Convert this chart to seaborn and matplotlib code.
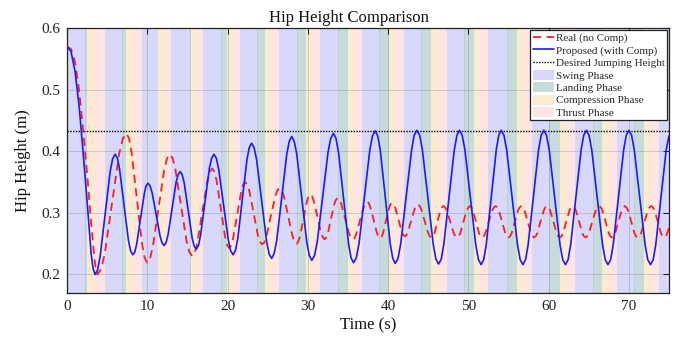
import matplotlib
matplotlib.use("Agg")
import matplotlib.pyplot as plt
import seaborn as sns
import pandas as pd
from matplotlib.patches import Patch
from matplotlib.lines import Line2D

# ---------------- data ----------------
# Real (no Comp) hip height, dashed red
real_t = [0.0, 0.5, 1.0, 1.5, 2.0, 2.5, 3.0, 3.4, 3.6, 3.8,
          4.25, 4.7, 5.6, 6.5, 6.95, 7.4,
          7.73, 8.05, 8.7, 9.35, 9.68, 10.0,
          10.35, 10.7, 11.4, 12.1, 12.45, 12.8,
          13.15, 13.5, 14.2, 14.9, 15.25, 15.6,
          15.91, 16.23, 16.85, 17.48, 17.79, 18.1,
          18.36, 18.63, 19.15, 19.68, 19.94, 20.2,
          20.45, 20.7, 21.2, 21.7, 21.95, 22.2,
          22.46, 22.73, 23.25, 23.78, 24.04, 24.3,
          24.58, 24.85, 25.4, 25.95, 26.23, 26.5,
          26.76, 27.03, 27.55, 28.08, 28.34, 28.6,
          28.81, 29.03, 29.45, 29.88, 30.09, 30.3,
          30.53, 30.75, 31.2, 31.65, 31.88, 32.1,
          32.3, 32.5, 32.9, 33.3, 33.5, 33.7,
          33.94, 34.18, 34.65, 35.13, 35.36, 35.6,
          35.83, 36.05, 36.5, 36.95, 37.18, 37.4,
          37.6, 37.8, 38.2, 38.6, 38.8, 39.0,
          39.19, 39.38, 39.75, 40.13, 40.31, 40.5,
          40.7, 40.9, 41.3, 41.7, 41.9, 42.1,
          42.3, 42.5, 42.9, 43.3, 43.5, 43.7,
          43.91, 44.13, 44.55, 44.98, 45.19, 45.4,
          45.59, 45.78, 46.15, 46.53, 46.71, 46.9,
          47.11, 47.33, 47.75, 48.18, 48.39, 48.6,
          48.8, 49.0, 49.4, 49.8, 50.0, 50.2,
          50.39, 50.58, 50.95, 51.33, 51.51, 51.7,
          51.91, 52.13, 52.55, 52.98, 53.19, 53.4,
          53.6, 53.8, 54.2, 54.6, 54.8, 55.0,
          55.2, 55.4, 55.8, 56.2, 56.4, 56.6,
          56.8, 57.0, 57.4, 57.8, 58.0, 58.2,
          58.4, 58.6, 59.0, 59.4, 59.6, 59.8,
          60.0, 60.2, 60.6, 61.0, 61.2, 61.4,
          61.6, 61.8, 62.2, 62.6, 62.8, 63.0,
          63.2, 63.4, 63.8, 64.2, 64.4, 64.6,
          64.81, 65.03, 65.45, 65.88, 66.09, 66.3,
          66.5, 66.7, 67.1, 67.5, 67.7, 67.9,
          68.1, 68.3, 68.7, 69.1, 69.3, 69.5,
          69.7, 69.9, 70.3, 70.7, 70.9, 71.1,
          71.31, 71.53, 71.95, 72.38, 72.59, 72.8,
          73.0, 73.2, 73.6, 74.0, 74.2, 74.4,
          74.7, 75.0]
real_h = [0.570, 0.566, 0.545, 0.500, 0.437, 0.365, 0.285, 0.228, 0.208, 0.200,
          0.209, 0.233, 0.315, 0.396, 0.420, 0.429,
          0.421, 0.398, 0.324, 0.250, 0.227, 0.219,
          0.226, 0.245, 0.307, 0.369, 0.388, 0.395,
          0.389, 0.371, 0.313, 0.254, 0.236, 0.230,
          0.235, 0.251, 0.301, 0.351, 0.367, 0.372,
          0.367, 0.353, 0.308, 0.262, 0.248, 0.243,
          0.247, 0.259, 0.297, 0.334, 0.346, 0.350,
          0.346, 0.335, 0.300, 0.264, 0.253, 0.249,
          0.252, 0.262, 0.295, 0.327, 0.337, 0.340,
          0.337, 0.327, 0.295, 0.263, 0.253, 0.250,
          0.253, 0.262, 0.290, 0.318, 0.327, 0.330,
          0.327, 0.319, 0.294, 0.268, 0.260, 0.257,
          0.260, 0.267, 0.291, 0.314, 0.321, 0.324,
          0.321, 0.314, 0.291, 0.267, 0.260, 0.257,
          0.259, 0.266, 0.288, 0.309, 0.316, 0.318,
          0.316, 0.309, 0.289, 0.268, 0.261, 0.259,
          0.261, 0.267, 0.288, 0.308, 0.314, 0.316,
          0.314, 0.308, 0.289, 0.270, 0.264, 0.262,
          0.264, 0.270, 0.288, 0.306, 0.312, 0.314,
          0.312, 0.306, 0.287, 0.268, 0.262, 0.260,
          0.262, 0.267, 0.286, 0.304, 0.309, 0.311,
          0.309, 0.304, 0.286, 0.267, 0.262, 0.260,
          0.262, 0.267, 0.286, 0.304, 0.309, 0.311,
          0.309, 0.304, 0.286, 0.267, 0.262, 0.260,
          0.262, 0.267, 0.286, 0.304, 0.309, 0.311,
          0.309, 0.304, 0.286, 0.267, 0.262, 0.260,
          0.262, 0.267, 0.286, 0.304, 0.309, 0.311,
          0.309, 0.304, 0.286, 0.267, 0.262, 0.260,
          0.262, 0.267, 0.286, 0.304, 0.309, 0.311,
          0.309, 0.304, 0.286, 0.267, 0.262, 0.260,
          0.262, 0.267, 0.286, 0.304, 0.309, 0.311,
          0.309, 0.304, 0.286, 0.267, 0.262, 0.260,
          0.262, 0.267, 0.286, 0.304, 0.309, 0.311,
          0.309, 0.304, 0.286, 0.267, 0.262, 0.260,
          0.262, 0.267, 0.286, 0.304, 0.309, 0.311,
          0.309, 0.304, 0.286, 0.267, 0.262, 0.260,
          0.262, 0.267, 0.286, 0.304, 0.309, 0.311,
          0.309, 0.304, 0.286, 0.267, 0.262, 0.260,
          0.264, 0.276]

# Proposed (with Comp) hip height, solid blue
prop_t = [0.0, 0.5, 1.0, 1.5, 2.0, 2.5, 3.0, 3.25, 3.5,
          3.81, 4.13, 4.75, 5.38, 5.69, 6.0,
          6.28, 6.55, 7.1, 7.65, 7.93, 8.2,
          8.44, 8.68, 9.15, 9.63, 9.86, 10.1,
          10.35, 10.6, 11.1, 11.6, 11.85, 12.1,
          12.35, 12.6, 13.1, 13.6, 13.85, 14.1,
          14.35, 14.6, 15.1, 15.6, 15.85, 16.1,
          16.38, 16.65, 17.2, 17.75, 18.03, 18.3,
          18.6, 18.9, 19.5, 20.1, 20.4, 20.7,
          20.99, 21.28, 21.85, 22.43, 22.71, 23.0,
          23.31, 23.63, 24.25, 24.88, 25.19, 25.5,
          25.81, 26.13, 26.75, 27.38, 27.69, 28.0,
          28.31, 28.63, 29.25, 29.88, 30.19, 30.5,
          30.84, 31.18, 31.85, 32.53, 32.86, 33.2,
          33.51, 33.83, 34.45, 35.08, 35.39, 35.7,
          36.04, 36.38, 37.05, 37.73, 38.06, 38.4,
          38.71, 39.03, 39.65, 40.28, 40.59, 40.9,
          41.24, 41.58, 42.25, 42.93, 43.26, 43.6,
          43.94, 44.28, 44.95, 45.63, 45.96, 46.3,
          46.63, 46.95, 47.6, 48.25, 48.58, 48.9,
          49.24, 49.58, 50.25, 50.93, 51.26, 51.6,
          51.91, 52.23, 52.85, 53.48, 53.79, 54.1,
          54.44, 54.78, 55.45, 56.13, 56.46, 56.8,
          57.13, 57.45, 58.1, 58.75, 59.08, 59.4,
          59.74, 60.08, 60.75, 61.43, 61.76, 62.1,
          62.43, 62.75, 63.4, 64.05, 64.38, 64.7,
          65.04, 65.38, 66.05, 66.73, 67.06, 67.4,
          67.73, 68.05, 68.7, 69.35, 69.68, 70.0,
          70.34, 70.68, 71.35, 72.03, 72.36, 72.7,
          73.03, 73.35, 74.0, 74.65, 75.0]
prop_h = [0.570, 0.562, 0.530, 0.475, 0.400, 0.320, 0.235, 0.210, 0.200,
          0.207, 0.229, 0.298, 0.367, 0.388, 0.395,
          0.389, 0.371, 0.314, 0.256, 0.238, 0.232,
          0.236, 0.249, 0.290, 0.331, 0.344, 0.348,
          0.344, 0.333, 0.298, 0.262, 0.251, 0.247,
          0.252, 0.265, 0.307, 0.350, 0.362, 0.367,
          0.362, 0.349, 0.304, 0.259, 0.246, 0.241,
          0.247, 0.264, 0.318, 0.373, 0.389, 0.395,
          0.389, 0.371, 0.314, 0.256, 0.238, 0.232,
          0.239, 0.258, 0.323, 0.387, 0.406, 0.413,
          0.406, 0.386, 0.320, 0.253, 0.233, 0.226,
          0.234, 0.255, 0.325, 0.395, 0.416, 0.424,
          0.416, 0.395, 0.324, 0.252, 0.231, 0.223,
          0.231, 0.253, 0.326, 0.399, 0.421, 0.429,
          0.421, 0.398, 0.324, 0.250, 0.227, 0.219,
          0.227, 0.250, 0.326, 0.402, 0.425, 0.433,
          0.425, 0.402, 0.326, 0.249, 0.226, 0.218,
          0.226, 0.250, 0.326, 0.402, 0.426, 0.434,
          0.426, 0.402, 0.326, 0.249, 0.225, 0.217,
          0.225, 0.249, 0.326, 0.402, 0.426, 0.434,
          0.426, 0.402, 0.325, 0.248, 0.224, 0.216,
          0.224, 0.248, 0.325, 0.402, 0.426, 0.434,
          0.426, 0.402, 0.325, 0.248, 0.224, 0.216,
          0.224, 0.248, 0.325, 0.402, 0.426, 0.434,
          0.426, 0.402, 0.325, 0.248, 0.224, 0.216,
          0.224, 0.248, 0.325, 0.402, 0.426, 0.434,
          0.426, 0.402, 0.325, 0.248, 0.224, 0.216,
          0.224, 0.248, 0.325, 0.402, 0.426, 0.434,
          0.426, 0.402, 0.325, 0.248, 0.224, 0.216,
          0.224, 0.248, 0.325, 0.402, 0.425]

desired_height = 0.433

# phase boundaries (s)
landing_start = [2.2, 6.8, 11.3, 15.3, 19.2, 23.7, 28.6, 33.8, 38.9, 44.1, 49.5, 54.8, 60.1, 65.5, 70.7]
compression_start = [2.5, 7.4, 11.4, 15.5, 19.9, 24.7, 29.8, 35.0, 40.1, 45.4, 50.7, 56.1, 61.4, 66.7, 71.9]
thrust_start = [3.5, 8.3, 12.2, 16.2, 20.7, 25.5, 30.6, 35.7, 40.9, 46.3, 51.4, 56.9, 62.3, 67.5, 72.8]
swing_start = [4.7, 9.3, 13.0, 17.0, 21.5, 26.4, 31.5, 36.7, 42.0, 47.3, 52.4, 57.9, 63.3, 68.5, 73.8]

x_ticks = [0, 10, 20, 30, 40, 50, 60, 70]
y_ticks = [0.2, 0.3, 0.4, 0.5, 0.6]
t_end = 75

labels = ["Real (no Comp)", "Proposed (with Comp)", "Desired Jumping Height",
          "Swing Phase", "Landing Phase", "Compression Phase", "Thrust Phase"]

# ---------------- styling ----------------
sns.set_theme(style="white")
plt.rcParams['font.family'] = ['Liberation Serif', 'DejaVu Serif']

C_SWING = '#d8d8fa'
C_LAND = '#c7dcda'
C_COMP = '#fdebd0'
C_THRUST = '#fde4e5'
C_REAL = '#ff1e1e'
C_PROP = '#1a1aff'

fig = plt.figure(figsize=(6.8, 3.41), dpi=100)
ax = fig.add_axes([0.0985, 0.1408, 0.8853, 0.7771])

# phase bands
swing_edges = [0] + swing_start
swing_ends = landing_start + [t_end]
for a, b in zip(swing_edges, swing_ends):
    ax.axvspan(a, b, color=C_SWING, lw=0, zorder=0)
for a, b in zip(landing_start, compression_start):
    ax.axvspan(a, b, facecolor=C_LAND, edgecolor='#b5c9d0', lw=0.6, zorder=0)
for a, b in zip(compression_start, thrust_start):
    ax.axvspan(a, b, color=C_COMP, lw=0, zorder=0)
for a, b in zip(thrust_start, swing_start):
    ax.axvspan(a, b, color=C_THRUST, lw=0, zorder=0)

df_real = pd.DataFrame({"t": real_t, "h": real_h})
df_prop = pd.DataFrame({"t": prop_t, "h": prop_h})
df_des = pd.DataFrame({"t": [0, t_end], "h": [desired_height, desired_height]})

sns.lineplot(data=df_real, x="t", y="h", ax=ax, color=C_REAL, lw=1.3,
             linestyle=(0, (4.5, 3.0)), sort=False, estimator=None, zorder=3)
sns.lineplot(data=df_prop, x="t", y="h", ax=ax, color=C_PROP, lw=1.2,
             sort=False, estimator=None, zorder=4)
sns.lineplot(data=df_des, x="t", y="h", ax=ax, color='black', lw=1.0,
             linestyle=(0, (1, 1)), sort=False, estimator=None, zorder=2)

ax.set_xlim(0, t_end)
ax.set_ylim(0.17, 0.6)
ax.set_xticks(x_ticks)
ax.set_yticks(y_ticks)
ax.set_xticklabels([str(v) for v in x_ticks])
ax.set_yticklabels([f"{v:.1f}" for v in y_ticks])
ax.set_axisbelow('line')
ax.grid(True, color='#8a8a9a', alpha=0.45, lw=0.6)
ax.tick_params(direction='in', top=True, right=True, length=4, width=0.8,
               labelsize=11, colors='#222222', pad=5)
for s in ax.spines.values():
    s.set_color('#222222')
    s.set_linewidth(0.9)

ax.set_title("Hip Height Comparison", fontsize=12, pad=4, x=0.468, color='#111111')
ax.set_xlabel("Time (s)", fontsize=12, labelpad=3, color='#111111')
ax.set_ylabel("Hip Height (m)", fontsize=12, labelpad=7, color='#111111')

handles = [
    Line2D([], [], color=C_REAL, lw=1.3, linestyle=(0, (4.5, 3.0))),
    Line2D([], [], color=C_PROP, lw=1.2),
    Line2D([], [], color='black', lw=1.0, linestyle=(0, (1, 1))),
    Patch(facecolor=C_SWING, edgecolor='none'),
    Patch(facecolor=C_LAND, edgecolor='none'),
    Patch(facecolor=C_COMP, edgecolor='none'),
    Patch(facecolor=C_THRUST, edgecolor='none'),
]
leg = ax.legend(handles, labels, loc='upper right', fontsize=8.0, frameon=True,
                fancybox=False, framealpha=1, edgecolor='#222222',
                borderaxespad=0.15, borderpad=0.25, labelspacing=0.14,
                handlelength=1.9, handletextpad=0.15, handleheight=1.0)
leg.get_frame().set_linewidth(0.9)
leg.set_zorder(10)

fig.savefig("out.png", dpi=100)
